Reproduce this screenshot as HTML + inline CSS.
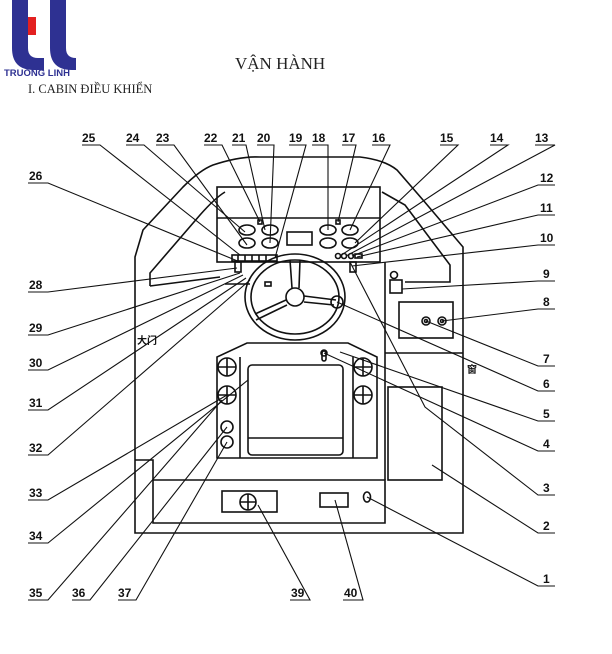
<!DOCTYPE html>
<html><head><meta charset="utf-8"><style>
body{margin:0;background:#fff;width:612px;height:654px;overflow:hidden}
svg{display:block}
.l{font-family:"Liberation Sans",sans-serif;font-size:12px;font-weight:bold;fill:#111}
</style></head><body>
<svg width="612" height="654" viewBox="0 0 612 654" xmlns="http://www.w3.org/2000/svg">
<!-- logo -->
<g fill="#2e3192">
<path d="M12,0 h16 v48 q0,10 10,10 h6 v12 h-10 q-22,0 -22,-22z"/>
<path d="M50,0 h16 v48 q0,10 10,10 h0 v12 h-4 q-22,0 -22,-22z"/>
</g>
<rect x="28" y="17" width="8" height="18" fill="#e32020"/>
<text x="4" y="76" font-family="Liberation Sans,sans-serif" font-size="9.5" font-weight="bold" fill="#2e3192">TRUONG LINH</text>
<text x="235" y="69" font-family="Liberation Serif,serif" font-size="17" fill="#222">VẬN HÀNH</text>
<text x="28" y="93" font-family="Liberation Serif,serif" font-size="12.5" fill="#222">I.  CABIN ĐIỀU KHIỂN</text>

<g fill="none" stroke="#111" stroke-width="1.6">
<!-- outer body -->
<path d="M135,533 L135,257 L143,230 L183,187 Q200,170 213,165 Q240,156 260,157 L360,157 Q385,160 397,170 L423,200 L463,247 L463,533 Z"/>
<!-- inner cover -->
<path d="M150,286 L150,273 L200,215 Q215,198 225,192"/>
<path d="M150,286 L220,277"/>
<path d="M382,192 L405,205 L450,265 L450,282 L405,282"/>
<!-- dashboard -->
<rect x="217" y="187" width="163" height="75"/>
<line x1="217" y1="218" x2="380" y2="218"/>
<ellipse cx="247" cy="230" rx="8" ry="5"/><ellipse cx="270" cy="230" rx="8" ry="5"/>
<ellipse cx="247" cy="243" rx="8" ry="5"/><ellipse cx="270" cy="243" rx="8" ry="5"/>
<ellipse cx="328" cy="230" rx="8" ry="5"/><ellipse cx="350" cy="230" rx="8" ry="5"/>
<ellipse cx="328" cy="243" rx="8" ry="5"/><ellipse cx="350" cy="243" rx="8" ry="5"/>
<rect x="287" y="232" width="25" height="13"/>
<rect x="258" y="220" width="4" height="4"/><rect x="336" y="220" width="4" height="4"/>
<rect x="232" y="255" width="45" height="6"/>
<line x1="238" y1="255" x2="238" y2="261"/><line x1="245" y1="255" x2="245" y2="261"/><line x1="252" y1="255" x2="252" y2="261"/><line x1="259" y1="255" x2="259" y2="261"/><line x1="266" y1="255" x2="266" y2="261"/>
<circle cx="338" cy="256" r="2.5"/><circle cx="344" cy="256" r="2.5"/><circle cx="351" cy="256" r="2.5"/><rect x="355" y="254" width="7" height="4"/>
<rect x="235" y="262" width="6" height="10"/><rect x="350" y="262" width="6" height="10"/>
<line x1="225" y1="284" x2="250" y2="284"/><rect x="265" y="282" width="6" height="4"/>
<!-- steering wheel -->
<ellipse cx="295" cy="297" rx="50" ry="43"/>
<ellipse cx="295" cy="297" rx="44" ry="37"/>
<circle cx="295" cy="297" r="9"/>
<path d="M290,260 L292,288 M300,260 L299,288 M286,300 L255,314 M287,305 L256,320 M304,296 L336,300 M304,302 L334,305"/>
<circle cx="337" cy="302" r="6"/>
<!-- right panel -->
<line x1="385" y1="262" x2="385" y2="480"/>
<line x1="385" y1="353" x2="463" y2="353"/>
<circle cx="394" cy="275" r="3.5"/><rect x="390" y="280" width="12" height="13"/>
<rect x="399" y="302" width="54" height="36"/>
<circle cx="426" cy="321" r="4"/><circle cx="426" cy="321" r="1.5"/><circle cx="442" cy="321" r="4"/><circle cx="442" cy="321" r="1.5"/>
<rect x="388" y="387" width="54" height="93"/>
<!-- console -->
<path d="M217,458 L217,357 L247,343 L348,343 L377,357 L377,458 Z"/>
<line x1="240" y1="357" x2="240" y2="458"/><line x1="353" y1="357" x2="353" y2="458"/>
<rect x="248" y="365" width="95" height="90" rx="4"/>
<line x1="248" y1="438" x2="343" y2="438"/>
<g><circle cx="227" cy="367" r="9"/><path d="M218,367h18M227,358v18"/></g>
<g><circle cx="227" cy="395" r="9"/><path d="M218,395h18M227,386v18"/></g>
<g><circle cx="363" cy="367" r="9"/><path d="M354,367h18M363,358v18"/></g>
<g><circle cx="363" cy="395" r="9"/><path d="M354,395h18M363,386v18"/></g>
<circle cx="227" cy="427" r="6"/><circle cx="227" cy="442" r="6"/>
<rect x="322" y="351" width="4" height="10" rx="2"/><circle cx="324" cy="353" r="3"/>
<!-- bottom -->
<path d="M135,460 L153,460 L153,523 L385,523 L385,480 L153,480"/>
<rect x="222" y="491" width="55" height="21"/>
<g><circle cx="248" cy="502" r="8"/><path d="M240,502h16M248,494v16"/></g>
<rect x="320" y="493" width="28" height="14"/>
<ellipse cx="367" cy="497" rx="3.5" ry="5"/>
</g>

<!-- leaders -->
<g fill="none" stroke="#111" stroke-width="1.1">
<path d="M82,145H100L240,255"/><path d="M126,145H144L245,232"/><path d="M156,145H174L247,245"/>
<path d="M204,145H222L260,222"/><path d="M232,145H246L265,230"/><path d="M257,145H274L270,243"/>
<path d="M289,145H306L275,258"/><path d="M312,145H328L328,230"/><path d="M342,145H356L338,222"/>
<path d="M372,145H390L350,230"/><path d="M440,145H458L355,243"/><path d="M490,145H508L340,256"/>
<path d="M535,145H555L346,256"/><path d="M555,185H538L352,256"/><path d="M555,215H538L357,257"/>
<path d="M555,245H538L352,266"/><path d="M555,281H538L402,289"/><path d="M555,309H538L442,321"/>
<path d="M555,366H538L426,321"/><path d="M555,391H538L337,302"/><path d="M555,421H538L340,352"/>
<path d="M555,451H538L324,353"/><path d="M555,495H538L425,407L350,262"/><path d="M555,533H538L432,465"/>
<path d="M555,586H538L367,497"/>
<path d="M28,183H48L240,262"/><path d="M28,292H48L237,268"/><path d="M28,335H48L240,273"/>
<path d="M28,370H48L243,275"/><path d="M28,410H48L246,278"/><path d="M28,455H48L250,280"/>
<path d="M28,500H48L227,395"/><path d="M28,543H48L248,380"/><path d="M28,600H48L222,400"/>
<path d="M72,600H90L227,427"/><path d="M118,600H136L227,442"/>
<path d="M290,600H310L258,505"/><path d="M343,600H363L335,500"/>
</g>
<g class="l">
<text x="82" y="142" class="l">25</text><text x="126" y="142" class="l">24</text><text x="156" y="142" class="l">23</text>
<text x="204" y="142" class="l">22</text><text x="232" y="142" class="l">21</text><text x="257" y="142" class="l">20</text>
<text x="289" y="142" class="l">19</text><text x="312" y="142" class="l">18</text><text x="342" y="142" class="l">17</text>
<text x="372" y="142" class="l">16</text><text x="440" y="142" class="l">15</text><text x="490" y="142" class="l">14</text>
<text x="535" y="142" class="l">13</text><text x="540" y="182" class="l">12</text><text x="540" y="212" class="l">11</text>
<text x="540" y="242" class="l">10</text><text x="543" y="278" class="l">9</text><text x="543" y="306" class="l">8</text>
<text x="543" y="363" class="l">7</text><text x="543" y="388" class="l">6</text><text x="543" y="418" class="l">5</text>
<text x="543" y="448" class="l">4</text><text x="543" y="492" class="l">3</text><text x="543" y="530" class="l">2</text>
<text x="543" y="583" class="l">1</text>
<text x="29" y="180" class="l">26</text><text x="29" y="289" class="l">28</text><text x="29" y="332" class="l">29</text>
<text x="29" y="367" class="l">30</text><text x="29" y="407" class="l">31</text><text x="29" y="452" class="l">32</text>
<text x="29" y="497" class="l">33</text><text x="29" y="540" class="l">34</text><text x="29" y="597" class="l">35</text>
<text x="72" y="597" class="l">36</text><text x="118" y="597" class="l">37</text><text x="291" y="597" class="l">39</text>
<text x="344" y="597" class="l">40</text>
</g>
<text x="137" y="344" font-family="Liberation Sans,'Noto Sans CJK SC',sans-serif" font-size="10" font-weight="bold" fill="#111">大门</text>
<text x="467" y="373" font-family="Liberation Sans,'Noto Sans CJK SC',sans-serif" font-size="10" font-weight="bold" fill="#111">窗</text>
</svg>
</body></html>
